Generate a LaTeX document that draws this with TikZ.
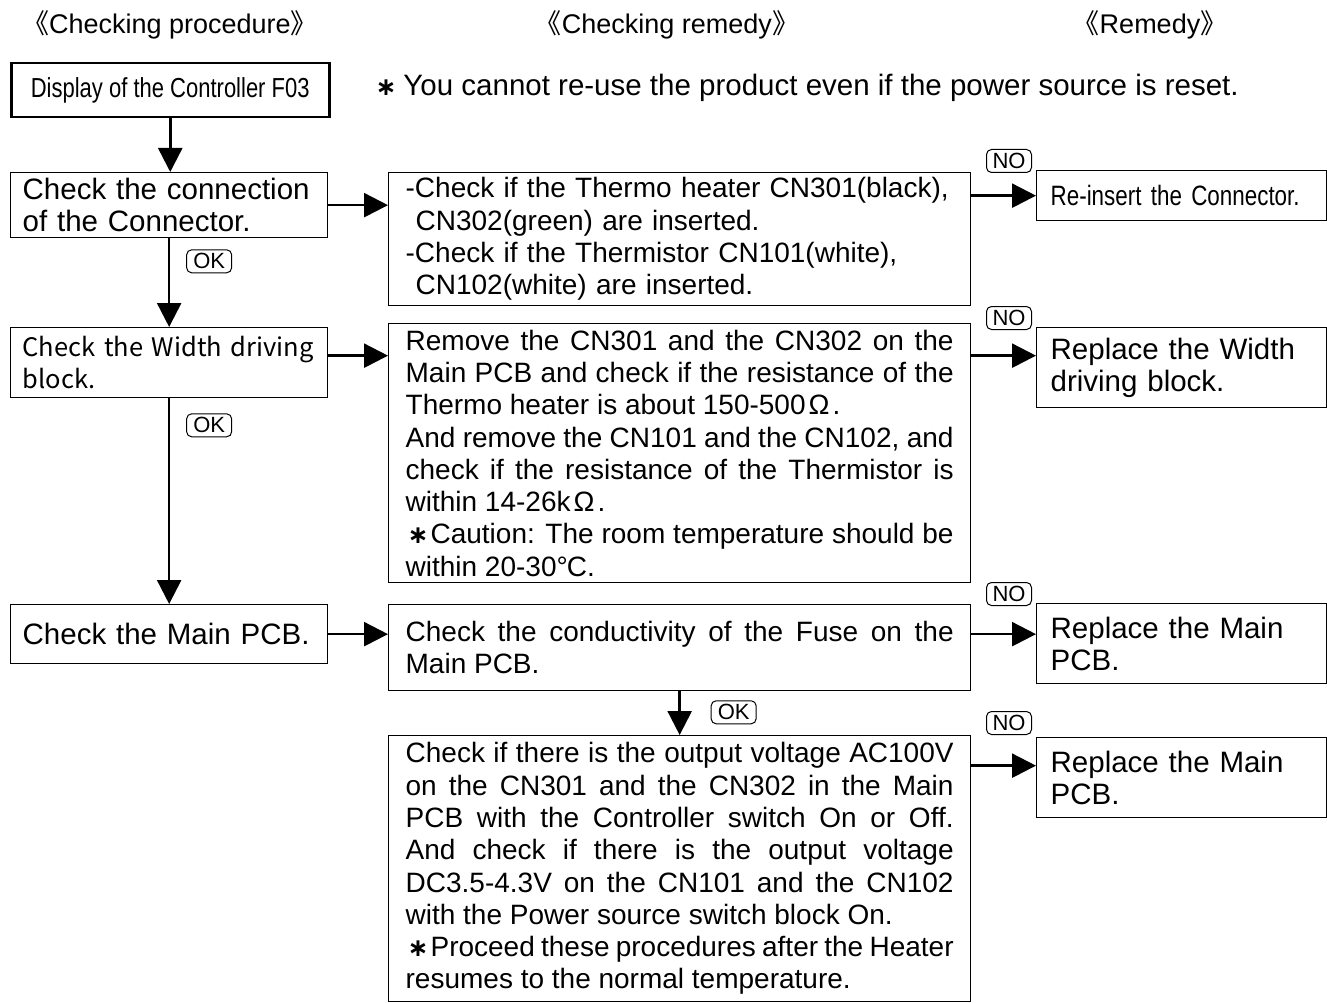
\documentclass[tikz,border=0pt]{standalone}
\usepackage{fontspec}
\setmainfont{Liberation Sans}
\newfontfamily\cjk{Noto Sans CJK JP}
\newfontfamily\symf{DejaVu Sans}
\newfontfamily\narrowsf[FakeStretch=0.8]{Liberation Sans}
\usetikzlibrary{arrows.meta}

\newcommand\midsize{\fontsize{28}{32.3}\selectfont}
\newcommand\bigsize{\fontsize{29.5}{32.3}\selectfont}
\newcommand\starmark{{\symf\bfseries\fontsize{25}{25}\selectfont ∗}}
\newcommand\ohm{\hspace{3pt}Ω\hspace{3pt}}

\begin{document}
\begin{tikzpicture}[x=1pt, y=-1pt,
    startbox/.style={draw, line width=2.5pt, anchor=north west, minimum width=318pt,
                     minimum height=54pt, font=\narrowsf\fontsize{27.5}{30}\selectfont},
    procbox/.style={draw, line width=1.3pt, anchor=north west, inner ysep=0pt, font=\bigsize,
                    minimum width=317pt, inner xsep=12pt, text width=293pt, align=left},
    checkbox/.style={draw, line width=1.3pt, anchor=north west, inner ysep=0pt, font=\midsize,
                     minimum width=582pt, inner xsep=17pt, text width=548pt, align=justify},
    remedybox/.style={draw, line width=1.3pt, anchor=north west, inner ysep=0pt, font=\bigsize,
                      minimum width=290pt, inner xsep=14pt, text width=262pt, align=left},
    tag/.style={draw, line width=1pt, rounded corners=5pt, font=\fontsize{22}{22}\selectfont,
                inner xsep=3pt, inner ysep=0pt, minimum height=23pt, minimum width=45pt},
    head/.style={font=\fontsize{27}{27}\selectfont},
    flow/.style={-{Triangle[length=24pt,width=24pt]}, line width=2.5pt}]
  \useasboundingbox (0,0) rectangle (1327,1003);
  \hyphenpenalty=10000

  % column heads
  \node[head] (h1) at (170,25) {{\cjk 《}Checking procedure{\cjk 》}};
  \node[head] (h2) at (667,25) {{\cjk 《}Checking remedy{\cjk 》}};
  \node[head] (h3) at (1150,25) {{\cjk 《}Remedy{\cjk 》}};

  \node[startbox] (disp) at (10,62) {Display of the Controller F03};
  \node[anchor=west, font=\bigsize] (note) at (372,88)
    {\starmark\hspace{7pt}You cannot re-use the product even if the power source is reset.};

  % checking procedure
  \node[procbox, minimum height=65pt] (conn) at (10,172) {Check the connection\\of the Connector.};
  \node[procbox, minimum height=70pt, font=\cjk\fontsize{25.5}{32}\selectfont] (width) at (10,327)
    {Check the Width driving\\block.};
  \node[procbox, minimum height=59pt] (pcb) at (10,604) {Check the Main PCB.};

  % checking remedy
  \node[checkbox, minimum height=133pt, align=left] (chkconn) at (388,172)
    {-Check if the Thermo heater CN301(black),\\
     \hspace*{10pt}CN302(green) are inserted.\\
     -Check if the Thermistor CN101(white),\\
     \hspace*{10pt}CN102(white) are inserted.};
  \node[checkbox, minimum height=259pt] (chkres) at (388,323)
    {Remove the CN301 and the CN302 on the\linebreak
     Main PCB and check if the resistance of the\linebreak
     Thermo heater is about 150-500\ohm.\\
     And remove the CN101 and the CN102, and\linebreak
     check if the resistance of the Thermistor is\linebreak
     within 14-26k\ohm.\\
     \hspace*{2pt}\starmark\hspace{2pt}Caution: The room temperature should be\linebreak
     within 20-30°\kern-1pt C.};
  \node[checkbox, minimum height=86pt] (chkfuse) at (388,604)
    {Check the conductivity of the Fuse on the\linebreak
     Main PCB.};
  \node[checkbox, minimum height=266pt] (chkvolt) at (388,735)
    {Check if there is the output voltage AC100V\linebreak
     on the CN301 and the CN302 in the Main\linebreak
     PCB with the Controller switch On or Off.\linebreak
     And check if there is the output voltage\linebreak
     DC3.5-4.3V on the CN101 and the CN102\linebreak
     with the Power source switch block On.\\
     \hspace*{2pt}\starmark\hspace{2pt}Proceed these procedures after the Heater\linebreak
     resumes to the normal temperature.};

  % remedy
  \node[remedybox, minimum height=50pt, font=\narrowsf\fontsize{28}{32}\selectfont] (reins) at (1036,170)
    {Re-insert the Connector.};
  \node[remedybox, minimum height=80pt] (repwidth) at (1036,327) {Replace the Width\\driving block.};
  \node[remedybox, minimum height=80pt] (reppcba) at (1036,603) {Replace the Main\\PCB.};
  \node[remedybox, minimum height=80pt] (reppcbb) at (1036,737) {Replace the Main\\PCB.};

  % OK / NO marks
  \node[tag, anchor=north west] (ok1) at ([xshift=17pt,yshift=-11pt]conn.south) {OK};
  \node[tag, anchor=north west] (ok2) at ([xshift=17pt,yshift=-15pt]width.south) {OK};
  \node[tag, anchor=north west] (ok3) at ([xshift=31pt,yshift=-9pt]chkfuse.south) {OK};
  \node[tag, anchor=south east] (no1) at ([xshift=-4pt,yshift=-3pt]reins.north west) {NO};
  \node[tag, anchor=south east] (no2) at ([xshift=-4pt,yshift=-3pt]repwidth.north west) {NO};
  \node[tag, anchor=south east] (no3) at ([xshift=-4pt,yshift=-3pt]reppcba.north west) {NO};
  \node[tag, anchor=south east] (no4) at ([xshift=-4pt,yshift=2pt]reppcbb.north west) {NO};

  % connectors
  \coordinate (row2) at ([yshift=7pt]width.east);
  \draw[flow] (disp.south) -- (disp.south |- conn.north);
  \draw[flow] (conn.south) -- (conn.south |- width.north);
  \draw[flow] (width.south) -- (width.south |- pcb.north);
  \draw[flow] (conn.east) -- (conn.east -| chkconn.west);
  \draw[flow] (chkconn.east |- reins.west) -- (reins.west);
  \draw[flow] (row2) -- (row2 -| chkres.west);
  \draw[flow] (row2 -| chkres.east) -- (row2 -| repwidth.west);
  \draw[flow] (pcb.east) -- (pcb.east -| chkfuse.west);
  \draw[flow] (pcb.east -| chkfuse.east) -- (pcb.east -| reppcba.west);
  \draw[flow] (chkfuse.south) -- (chkfuse.south |- chkvolt.north);
  \draw[flow] ([yshift=12pt]reppcbb.west -| chkvolt.east) -- ([yshift=12pt]reppcbb.west);
\end{tikzpicture}
\end{document}
